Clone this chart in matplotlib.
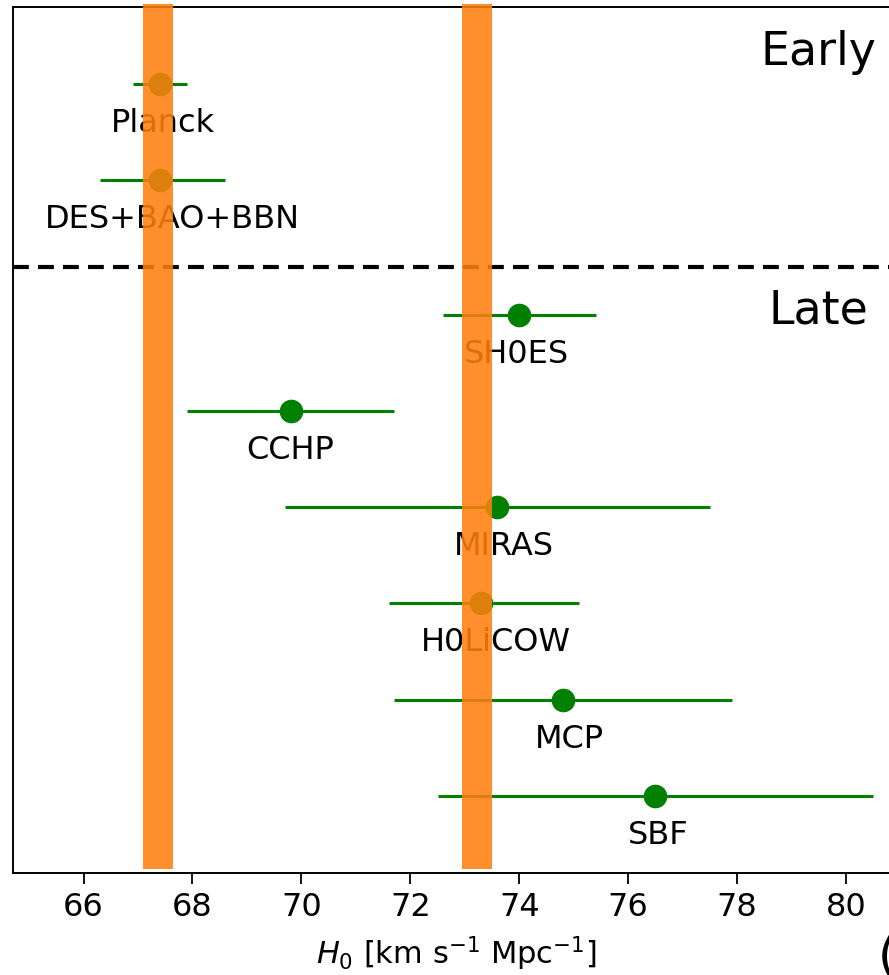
import numpy as np
import matplotlib
matplotlib.use('Agg')
import matplotlib.pyplot as plt

# H0 measurements (early universe first, then late universe)
names = ['Planck', 'DES+BAO+BBN', 'SH0ES', 'CCHP', 'MIRAS', 'H0LiCOW', 'MCP', 'SBF']
h0 = [67.4, 67.4, 74.0, 69.8, 73.6, 73.3, 74.8, 76.5]
err_lo = [0.5, 1.1, 1.4, 1.9, 3.9, 1.7, 3.1, 4.0]
err_hi = [0.5, 1.2, 1.4, 1.9, 3.9, 1.8, 3.1, 4.0]
rows = [7.4, 6.4, 5, 4, 3, 2, 1, 0]

# orange reference bands
band_lo = [67.1, 72.95]
band_hi = [67.65, 73.5]

xticks = [66, 68, 70, 72, 74, 76, 78, 80]

fig = plt.figure(figsize=(8.89, 9.75), dpi=100)
ax = fig.add_axes([0.0143, 0.1049, 0.9987, 0.8882])

ax.errorbar(h0, rows, xerr=[err_lo, err_hi], fmt='o', color='green',
            ms=16, lw=2.2, capsize=0, zorder=2)

# small sideways nudges for the labels
label_dx = [0.06, 0.23, -0.06, 0.0, 0.11, 0.27, 0.13, 0.05]
for name, x, y, dx in zip(names, h0, rows, label_dx):
    ax.text(x + dx, y - 0.5, name, ha='center', va='baseline', fontsize=23, zorder=1)

for lo, hi in zip(band_lo, band_hi):
    ax.axvspan(lo, hi, ymin=0.004, ymax=1.003, color='C1', alpha=0.87,
               lw=0, zorder=5, clip_on=False)

ax.axhline(5.5, color='black', lw=3, linestyle=(0, (3.8, 2.2)), zorder=1.5)

ax.text(79.5, 7.59, 'Early', ha='center', va='baseline', fontsize=33)
ax.text(79.5, 4.91, 'Late', ha='center', va='baseline', fontsize=33)

ax.set_xlim(64.7, 81.0)
ax.set_ylim(-0.8, 8.2)
ax.set_yticks([])
ax.set_xticks(xticks)
ax.tick_params(axis='x', labelsize=23, length=8, width=1.3, pad=6)
for s in ax.spines.values():
    s.set_linewidth(1.4)

ax.set_xlabel(r'$H_0$ [km s$^{-1}$ Mpc$^{-1}$]', fontsize=22, labelpad=8)

fig.text(0.9876, 0.0041, '(a)', fontsize=36, ha='left', va='baseline')

fig.savefig('out.png', dpi=100)
